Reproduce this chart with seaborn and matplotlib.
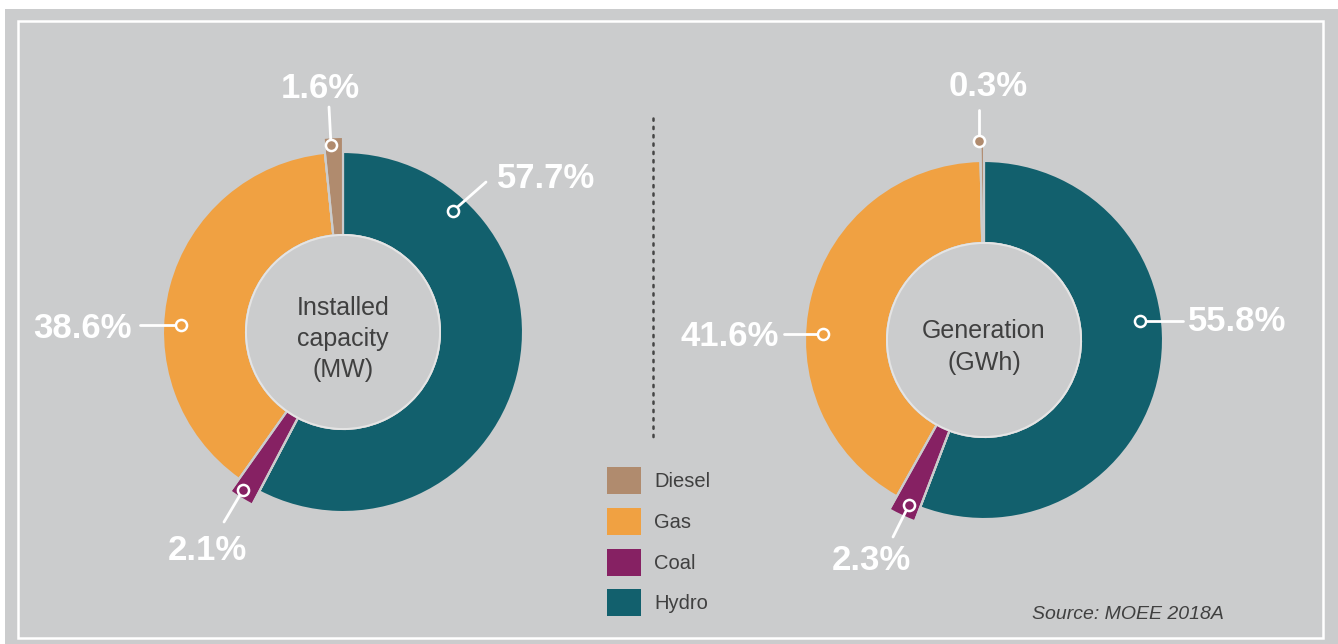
import matplotlib
matplotlib.use("Agg")
import matplotlib.pyplot as plt
from matplotlib.patches import Rectangle, Circle, Patch
import seaborn as sns

sns.set_theme(style="white")
plt.rcParams["font.family"] = ["Liberation Sans", "DejaVu Sans"]

W, H = 1338, 644

# data
sources = ["Hydro", "Coal", "Gas", "Diesel"]
capacity = [57.7, 2.1, 38.6, 1.6]
generation = [55.8, 2.3, 41.6, 0.3]
legend_order = ["Diesel", "Gas", "Coal", "Hydro"]
highlighted = ["Coal", "Diesel"]
titles = ["Installed\ncapacity\n(MW)", "Generation\n(GWh)"]
source_note = "Source: MOEE 2018A"

BG = "#cbcccd"
DARK = "#404040"
palette = dict(zip(sources, sns.color_palette(["#12606d", "#862163", "#f0a142", "#b08b6e"])))
INNER = 97   # hole radius, px
POP = 15     # extra length of highlighted slices, px


def P(x, y):
    # pixel position (top-left origin) -> data coords
    return (x, H - y)


# layout of each donut: centre, radius, and per-source (text, line start, marker) in pixels
donuts = [
    dict(values=capacity, title=titles[0], center=(343, 332), r=180,
         ann=[((546, 175), (486, 182), (453, 211)),
              ((207, 548), (224, 522), (243, 490)),
              ((82, 325), (140, 325), (181, 325)),
              ((320, 85), (329, 107), (331, 145))]),
    dict(values=generation, title=titles[1], center=(984, 340), r=179,
         ann=[((1237, 318), (1183, 321), (1140, 321)),
              ((871, 557), (893, 537), (909, 505)),
              ((730, 333), (784, 334), (823, 334)),
              ((988, 83), (979, 110), (979, 141))]),
]

fig = plt.figure(figsize=(W / 100, H / 100), dpi=100, facecolor="white")
ax = fig.add_axes([0, 0, 1, 1])

ax.add_patch(Rectangle(P(5, 644), W - 5, 644 - 9, facecolor=BG, edgecolor="none", zorder=-2))
ax.add_patch(Rectangle(P(18, 638), 1323 - 18, 638 - 21, facecolor="none",
                       edgecolor="white", lw=1.8, zorder=-1))

for d in donuts:
    cx, cy = P(*d["center"])
    r = d["r"]
    # base ring (highlighted slices left empty), then the longer highlighted slices
    ax.pie(d["values"], colors=["none" if s in highlighted else palette[s] for s in sources],
           startangle=90, counterclock=False, radius=r, center=(cx, cy),
           wedgeprops=dict(width=r - INNER, edgecolor=BG, linewidth=1.5))
    ax.pie(d["values"], colors=[palette[s] if s in highlighted else "none" for s in sources],
           startangle=90, counterclock=False, radius=r + POP, center=(cx, cy),
           wedgeprops=dict(width=r + POP - INNER, edgecolor="none", linewidth=0))
    ax.pie(d["values"], colors=["none"] * len(sources),
           startangle=90, counterclock=False, radius=r + POP, center=(cx, cy),
           wedgeprops=dict(width=r + POP - INNER, edgecolor=BG, linewidth=1.5, fill=False))
    ax.add_patch(Circle((cx, cy), INNER, facecolor=BG, edgecolor="#e4e4e4", lw=1.4, zorder=3))
    ax.text(cx, cy - 7, d["title"], ha="center", va="center", fontsize=18,
            color=DARK, linespacing=1.38, zorder=4)
    for s, v, (txt, start, mark) in zip(sources, d["values"], d["ann"]):
        (x0, y0), (x1, y1) = P(*start), P(*mark)
        ax.plot([x0, x1], [y0, y1], color="white", lw=2, zorder=5)
        ax.plot(x1, y1, "o", ms=8, mfc=palette[s], mec="white", mew=1.8, zorder=6)
        tx, ty = P(txt[0], txt[1] + 12.5)
        ax.text(tx, ty, f"{v}%", ha="center", va="baseline", fontsize=25,
                fontweight="bold", color="white", zorder=6)

# dotted divider
ax.plot([653, 653], [H - 118, H - 439], color="#454545", lw=1.8,
        ls=(0, (0.9, 2.43)), dash_capstyle="round", zorder=2)

ax.text(*P(1224, 619), source_note, ha="right", va="baseline", fontsize=14,
        style="italic", color=DARK)

ax.set_xlim(0, W)
ax.set_ylim(0, H)
ax.set_aspect("equal")
ax.axis("off")

fig.legend(handles=[Patch(facecolor=palette[s], edgecolor="none") for s in legend_order],
           labels=legend_order,
           loc="upper left", bbox_to_anchor=(607 / W, 1 - 467 / H), frameon=False,
           borderpad=0, borderaxespad=0, handlelength=1.69, handleheight=1.69,
           labelspacing=0.68, handletextpad=0.65, labelcolor=DARK,
           prop=dict(size=14.5))

fig.savefig("out.png", dpi=100, facecolor="white")
